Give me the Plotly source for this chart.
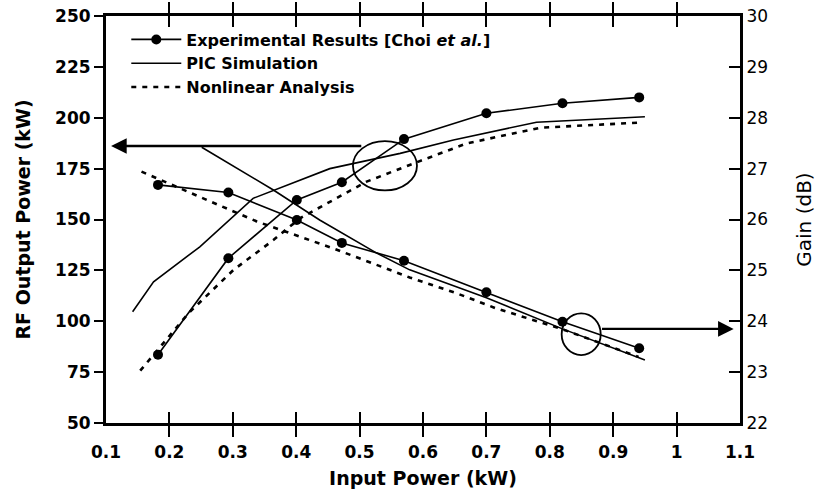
import plotly.graph_objects as go

# ---------------- data ----------------
exp_x = [0.182, 0.293, 0.401, 0.472, 0.570, 0.700, 0.820, 0.941]
exp_power = [83.5, 131, 159.6, 168.3, 189.5, 202.2, 207.1, 210]
exp_gain = [26.68, 26.53, 25.99, 25.54, 25.19, 24.57, 23.99, 23.47]

pic_power_x = [0.142, 0.175, 0.248, 0.332, 0.453, 0.564, 0.648, 0.779, 0.950]
pic_power = [104.7, 119.4, 136.6, 160.4, 175.0, 182.5, 189.1, 197.8, 200.5]

pic_gain_x = [0.251, 0.364, 0.437, 0.527, 0.579, 0.700, 0.820, 0.950]
pic_gain = [27.42, 26.58, 25.99, 25.34, 25.01, 24.46, 23.85, 23.24]

nl_power_x = [0.154, 0.230, 0.301, 0.364, 0.406, 0.459, 0.511, 0.579, 0.669, 0.785, 0.940]
nl_power = [75.7, 103.9, 125.2, 139.9, 150.6, 159.6, 168.6, 176.8, 187.4, 195.1, 197.6]

nl_gain_x = [0.156, 0.248, 0.338, 0.459, 0.579, 0.653, 0.716, 0.816, 0.940]
nl_gain = [26.94, 26.45, 25.96, 25.43, 24.86, 24.55, 24.25, 23.86, 23.30]

x_ticks = [0.1, 0.2, 0.3, 0.4, 0.5, 0.6, 0.7, 0.8, 0.9, 1.0, 1.1]
x_tick_text = ["0.1", "0.2", "0.3", "0.4", "0.5", "0.6", "0.7", "0.8", "0.9", "1", "1.1"]
power_ticks = [50, 75, 100, 125, 150, 175, 200, 225, 250]
gain_ticks = [22, 23, 24, 25, 26, 27, 28, 29, 30]

legend_names = ["Experimental Results [Choi <i>et al.</i>]", "PIC Simulation", "Nonlinear Analysis"]

# circle highlights (data coordinates) and arrows
circle_power = dict(xc=0.540, yc=176.4, rx=0.0505, ry=12.1)
circle_gain = dict(xc=0.8495, yc=23.745, rx=0.0308, ry=0.41)
arrow_power = dict(x=0.108, y=186.1, ax=0.505, ay=186.1)
arrow_gain = dict(x=1.090, y=23.85, ax=0.880, ay=23.85)

# ---------------- figure ----------------
FONT = "DejaVu Sans, Liberation Sans, Arial, sans-serif"
fig = go.Figure()

line_w = 1.6
dot_dash = "5px,6px"

fig.add_trace(go.Scatter(x=exp_x, y=exp_power, mode="lines+markers", name=legend_names[0],
                         line=dict(color="black", width=line_w),
                         marker=dict(color="black", size=10)))
fig.add_trace(go.Scatter(x=pic_power_x, y=pic_power, mode="lines", name=legend_names[1],
                         line=dict(color="black", width=line_w)))
fig.add_trace(go.Scatter(x=nl_power_x, y=nl_power, mode="lines", name=legend_names[2],
                         line=dict(color="black", width=2.6, dash=dot_dash)))

fig.add_trace(go.Scatter(x=exp_x, y=exp_gain, mode="lines+markers", yaxis="y2", showlegend=False,
                         line=dict(color="black", width=line_w),
                         marker=dict(color="black", size=10)))
fig.add_trace(go.Scatter(x=pic_gain_x, y=pic_gain, mode="lines", yaxis="y2", showlegend=False,
                         line=dict(color="black", width=line_w)))
fig.add_trace(go.Scatter(x=nl_gain_x, y=nl_gain, mode="lines", yaxis="y2", showlegend=False,
                         line=dict(color="black", width=2.6, dash=dot_dash)))

# circles
for c, yref in ((circle_power, "y"), (circle_gain, "y2")):
    fig.add_shape(type="circle", xref="x", yref=yref,
                  x0=c["xc"] - c["rx"], x1=c["xc"] + c["rx"],
                  y0=c["yc"] - c["ry"], y1=c["yc"] + c["ry"],
                  line=dict(color="black", width=1.8))

# arrows
for a, yref in ((arrow_power, "y"), (arrow_gain, "y2")):
    fig.add_annotation(x=a["x"], y=a["y"], ax=a["ax"], ay=a["ay"],
                       xref="x", yref=yref, axref="x", ayref=yref,
                       showarrow=True, arrowhead=2, arrowsize=1.3, arrowwidth=2.4,
                       arrowcolor="black", standoff=0, text="")

tickfont_bold = dict(family=FONT, size=17, color="black", weight="bold")
tickfont_reg = dict(family=FONT, size=17, color="black", weight="normal")
titlefont_bold = dict(family=FONT, size=19, color="black", weight="bold")
titlefont_reg = dict(family=FONT, size=20, color="black", weight="normal")

fig.update_layout(
    width=821, height=495,
    margin=dict(l=106, r=81, t=16, b=72),
    paper_bgcolor="white", plot_bgcolor="white",
    showlegend=True,
    legend=dict(x=0.032, y=0.984, xanchor="left", yanchor="top",
                bgcolor="rgba(0,0,0,0)", borderwidth=0,
                font=dict(family=FONT, size=16, color="black", weight="bold"),
                itemwidth=50, tracegroupgap=0),
    xaxis=dict(range=[0.1, 1.1], tickvals=x_ticks, ticktext=x_tick_text,
               showgrid=False, zeroline=False, automargin=False,
               showline=True, linecolor="black", linewidth=3, mirror="allticks",
               ticks="inside", ticklen=11, tickwidth=2, tickcolor="black",
               tickfont=tickfont_bold, ticklabelstandoff=12,
               title=dict(text="Input Power (kW)", font=titlefont_bold, standoff=11)),
    yaxis=dict(range=[50, 250], tickvals=power_ticks,
               showgrid=False, zeroline=False, automargin=False,
               showline=True, linecolor="black", linewidth=3,
               ticks="outside", ticklen=9, tickwidth=2, tickcolor="black",
               tickfont=tickfont_bold,
               title=dict(text="RF Output Power (kW)", font=titlefont_bold, standoff=20)),
    yaxis2=dict(range=[22, 30], tickvals=gain_ticks, overlaying="y", side="right",
                showgrid=False, zeroline=False, automargin=False,
                showline=True, linecolor="black", linewidth=3,
                ticks="inside", ticklen=11, tickwidth=2, tickcolor="black",
                tickfont=tickfont_reg,
                title=dict(text="Gain (dB)", font=titlefont_reg, standoff=30)),
)

fig.write_html("out.html")
